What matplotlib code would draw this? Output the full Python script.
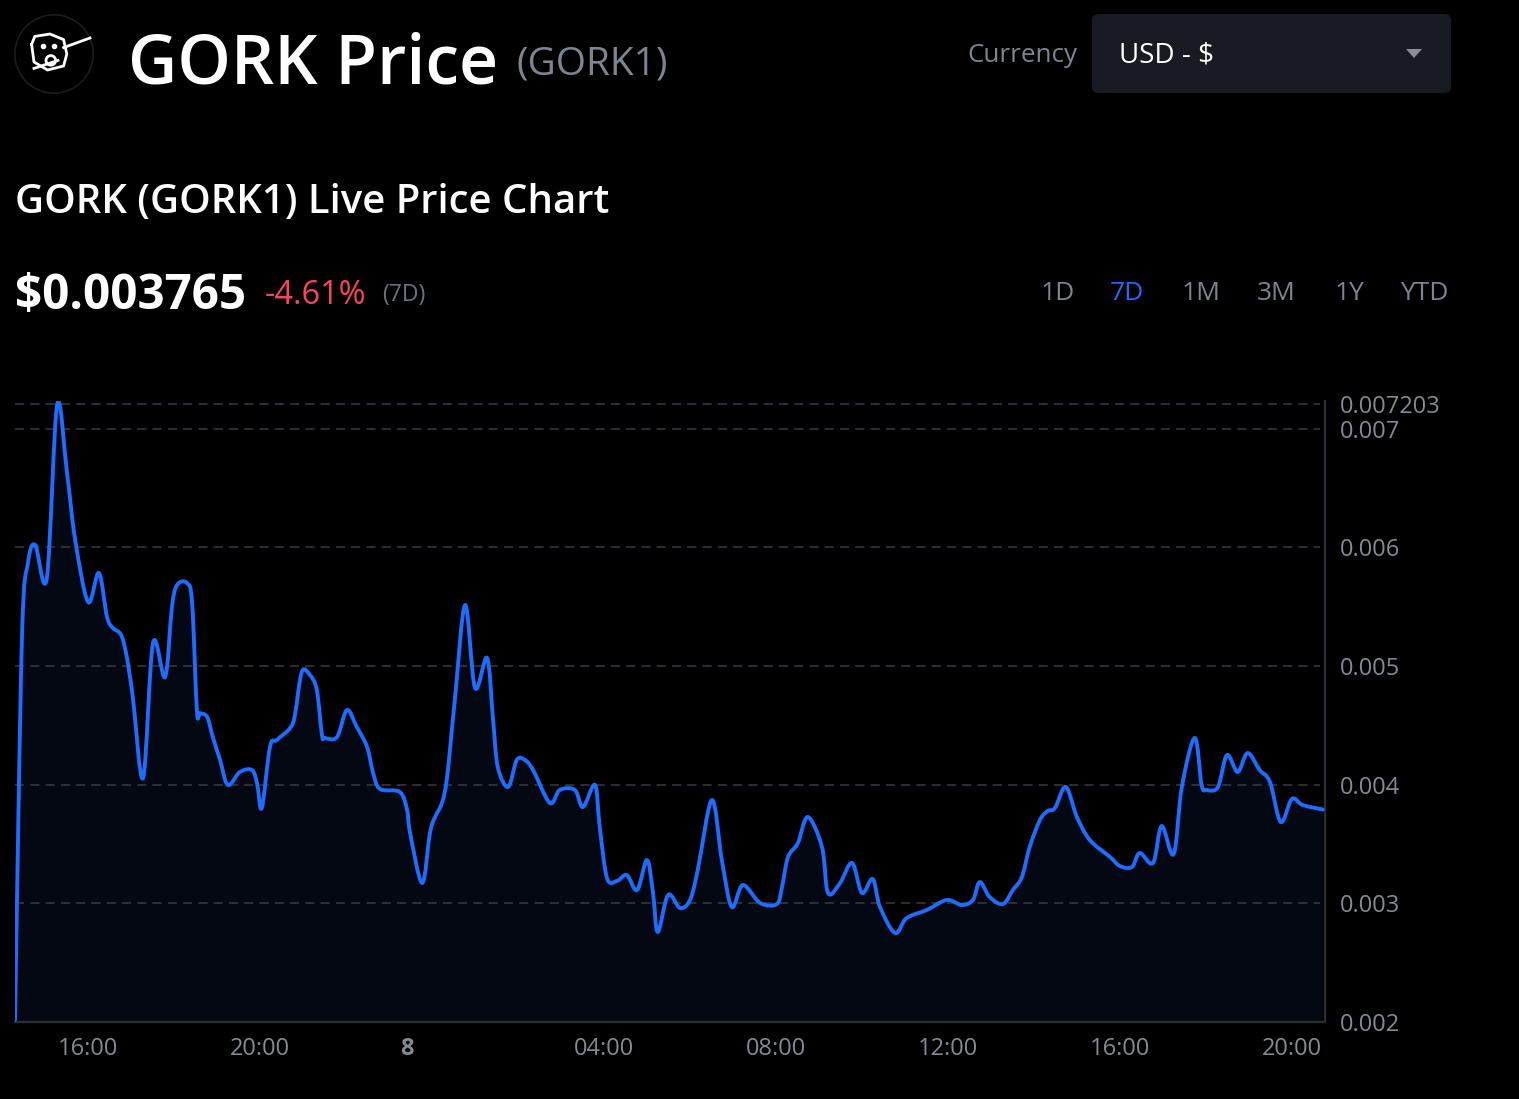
import numpy as np
import matplotlib.pyplot as plt
from matplotlib.patches import FancyBboxPatch, Circle, Polygon, PathPatch
from matplotlib.path import Path

plt.rcParams['font.family'] = ['Open Sans', 'DejaVu Sans']

# time in hours since midnight of day 7 (24 = midnight of day 8)
hours = [14.30, 14.46, 14.60, 14.77, 15.04, 15.28, 15.51, 15.70, 16.00, 16.25,
         16.44, 16.58, 16.77, 16.90, 17.04, 17.28, 17.51, 17.79, 17.95, 18.07,
         18.30, 18.42, 18.53, 18.60, 18.77, 18.90, 19.07, 19.25, 19.53, 19.81,
         19.93, 20.04, 20.23, 20.39, 20.70, 20.81, 20.97, 21.16, 21.32, 21.44,
         21.51, 21.79, 22.02, 22.25, 22.49, 22.63, 22.79, 23.25, 23.42, 23.49,
         23.77, 23.95, 24.07, 24.23, 24.35, 24.53, 24.77, 25.00, 25.28, 25.42,
         25.53, 25.77, 25.97, 26.16, 26.35, 26.74, 26.97, 27.32, 27.51, 27.79,
         27.90, 28.07, 28.30, 28.53, 28.77, 29.00, 29.14, 29.25, 29.49, 29.77,
         30.00, 30.18, 30.51, 30.74, 30.97, 31.23, 31.63, 32.02, 32.14, 32.28,
         32.51, 32.74, 33.07, 33.21, 33.49, 33.77, 34.00, 34.25, 34.42, 34.77,
         35.04, 35.51, 35.97, 36.32, 36.58, 36.74, 36.97, 37.28, 37.51, 37.72,
         37.90, 38.14, 38.32, 38.49, 38.74, 39.00, 39.30, 39.77, 40.00, 40.28,
         40.46, 40.77, 40.97, 41.25, 41.44, 41.74, 41.90, 42.02, 42.28, 42.49,
         42.74, 42.97, 43.25, 43.49, 43.74, 44.00, 44.25, 44.72]

prices = [2.017, 5.218, 5.867, 6.019, 5.741, 7.203, 6.625, 6.061, 5.538, 5.783,
          5.412, 5.319, 5.260, 5.075, 4.738, 4.056, 5.193, 4.906, 5.496, 5.682,
          5.698, 5.530, 4.628, 4.603, 4.570, 4.401, 4.207, 3.997, 4.106, 4.123,
          4.013, 3.803, 4.317, 4.376, 4.477, 4.586, 4.949, 4.923, 4.797, 4.418,
          4.393, 4.401, 4.628, 4.485, 4.317, 4.098, 3.963, 3.938, 3.786, 3.592,
          3.171, 3.592, 3.727, 3.845, 4.064, 4.713, 5.513, 4.814, 5.067, 4.544,
          4.148, 3.980, 4.207, 4.207, 4.123, 3.845, 3.955, 3.955, 3.811, 3.997,
          3.643, 3.213, 3.188, 3.238, 3.112, 3.365, 3.087, 2.758, 3.070, 2.960,
          3.028, 3.281, 3.870, 3.365, 2.969, 3.154, 3.003, 2.994, 3.137, 3.390,
          3.508, 3.727, 3.474, 3.087, 3.171, 3.340, 3.087, 3.205, 2.969, 2.750,
          2.876, 2.944, 3.028, 2.986, 3.028, 3.179, 3.053, 2.994, 3.112, 3.222,
          3.474, 3.702, 3.778, 3.803, 3.980, 3.727, 3.533, 3.390, 3.314, 3.306,
          3.424, 3.340, 3.651, 3.415, 3.980, 4.393, 3.997, 3.955, 3.980, 4.249,
          4.106, 4.266, 4.123, 4.022, 3.685, 3.879, 3.828, 3.790]
prices = [p / 1000 for p in prices]

y_ticks = [0.002, 0.003, 0.004, 0.005, 0.006, 0.007, 0.007203]
y_labels = ['0.002', '0.003', '0.004', '0.005', '0.006', '0.007', '0.007203']
x_ticks = [16, 20, 23.42, 28, 32, 36, 40, 44]
x_labels = ['16:00', '20:00', '8', '04:00', '08:00', '12:00', '16:00', '20:00']
ranges = ['1D', '7D', '1M', '3M', '1Y', 'YTD']
range_x = [1041, 1110, 1182, 1257, 1335, 1400]

W, H = 1519, 1099
fig = plt.figure(figsize=(W / 100, H / 100), dpi=100, facecolor='black')

y_lo, y_hi = 0.002, 0.00723
top_px = 1022 - (y_hi - y_lo) * 118700
ax = fig.add_axes([15 / W, 1 - 1022 / H, 1310 / W, (1022 - top_px) / H])
ax.set_facecolor('black')
ax.set_xlim(14.30, 44.77)
ax.set_ylim(y_lo, y_hi)

# smooth curve through the points (Catmull-Rom as cubic Bezier segments)
pts = np.column_stack([hours, prices])
n = len(pts)
verts = [tuple(pts[0])]
codes = [Path.MOVETO]
for i in range(n - 1):
    p0 = pts[max(i - 1, 0)]
    p1 = pts[i]
    p2 = pts[i + 1]
    p3 = pts[min(i + 2, n - 1)]
    verts += [tuple(p1 + (p2 - p0) / 6), tuple(p2 - (p3 - p1) / 6), tuple(p2)]
    codes += [Path.CURVE4] * 3
line_path = Path(verts, codes)
fill_path = Path(verts + [(hours[-1], y_lo), (hours[0], y_lo), (hours[0], y_lo)],
                 codes + [Path.LINETO, Path.LINETO, Path.CLOSEPOLY])
ax.add_patch(PathPatch(fill_path, fc='#030812', ec='none', zorder=1))
ax.add_patch(PathPatch(line_path, fc='none', ec='#1f6cff', lw=2.8,
                       joinstyle='round', capstyle='round', zorder=3))

for y in y_ticks[1:]:
    ax.axhline(y, color='#383c44', lw=1.1, ls=(0, (6, 4)), xmax=0.996, zorder=2)

for s in ['top', 'left']:
    ax.spines[s].set_visible(False)
for s in ['right', 'bottom']:
    ax.spines[s].set_color('#2a2e35')
    ax.spines[s].set_linewidth(1.6)

ax.yaxis.tick_right()
ax.set_yticks(y_ticks)
ax.set_yticklabels(y_labels)
ax.set_xticks(x_ticks)
ax.set_xticklabels(x_labels)
ax.tick_params(axis='y', length=0, pad=11, labelsize=17, labelcolor='#858b94')
ax.tick_params(axis='x', length=0, pad=11, labelsize=17, labelcolor='#858b94')
ax.get_xticklabels()[2].set_fontweight('bold')

# header
def fy(px):
    return 1 - px / H

lax = fig.add_axes([14 / W, 1 - 94 / H, 80 / W, 80 / H])
lax.set_xlim(0, 1)
lax.set_ylim(0, 1)
lax.axis('off')
lax.add_patch(Circle((0.5, 0.5), 0.49, fc='black', ec='#1c1c1c', lw=1.2))
lax.plot([0.22, 0.26, 0.45, 0.62, 0.66, 0.62, 0.42, 0.25, 0.22],
         [0.62, 0.72, 0.75, 0.68, 0.50, 0.35, 0.30, 0.40, 0.62],
         color='white', lw=2)
lax.plot([0.25, 0.55], [0.32, 0.42], color='white', lw=2)
lax.plot([0.62, 0.95], [0.58, 0.70], color='white', lw=2)
lax.plot([0.36, 0.50], [0.60, 0.60], 'o', color='white', ms=3)
lax.add_patch(Circle((0.46, 0.42), 0.06, fc='none', ec='white', lw=2))

fig.text(128 / W, fy(66), 'GORK Price', color='white', fontsize=49,
         fontweight='semibold', va='center', ha='left')
fig.text(516 / W, fy(64), '(GORK1)', color='#7d8590', fontsize=28,
         va='center', ha='left')
fig.text(967 / W, fy(56), 'Currency', color='#7d8590', fontsize=18.7,
         va='center', ha='left')
fig.patches.append(FancyBboxPatch((1092 / W, fy(93)), 359 / W, 79 / H,
                                  boxstyle='round,pad=0,rounding_size=0.005',
                                  transform=fig.transFigure, fc='#181b22', ec='none'))
fig.text(1119 / W, fy(56), 'USD - $', color='white', fontsize=20,
         va='center', ha='left')
fig.patches.append(Polygon([(1406 / W, fy(49)), (1422 / W, fy(49)), (1414 / W, fy(58))],
                           closed=True, transform=fig.transFigure, fc='#8b8f96', ec='none'))

fig.text(15 / W, fy(203), 'GORK (GORK1) Live Price Chart', color='white',
         fontsize=28.9, fontweight='semibold', va='center', ha='left')
fig.text(15 / W, fy(296), '$0.003765', color='white', fontsize=34.3,
         fontweight='bold', va='center', ha='left')
fig.text(265 / W, fy(295), '-4.61%', color='#f6465d', fontsize=23.4,
         va='center', ha='left')
fig.text(382 / W, fy(295), '(7D)', color='#6b7280', fontsize=16.6,
         va='center', ha='left')
for lab, x in zip(ranges, range_x):
    fig.text(x / W, fy(294), lab, color='#1f6cff' if lab == '7D' else '#7d8590',
             fontsize=19, va='center', ha='left')

fig.savefig('out.png', dpi=100, facecolor='black')
